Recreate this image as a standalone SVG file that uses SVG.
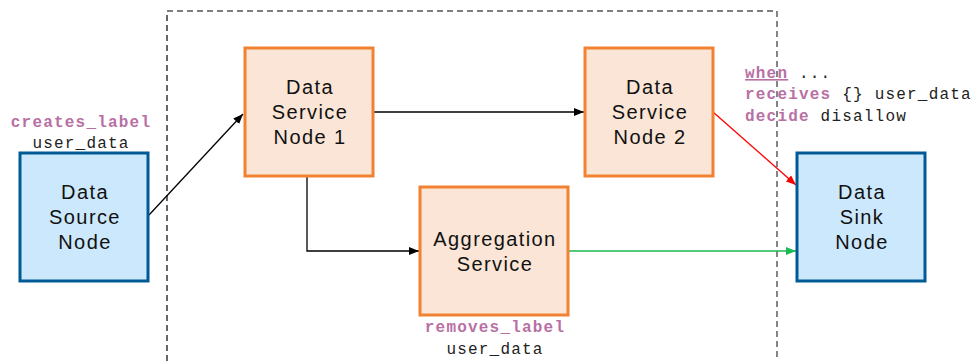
<svg xmlns="http://www.w3.org/2000/svg" width="974" height="361" viewBox="0 0 974 361">
<defs>
<style>
.blue{fill:#cce8fc;stroke:#005a96;stroke-width:3}
.orange{fill:#fae5d6;stroke:#f08232;stroke-width:3}
.nt{font-family:"Liberation Sans",Arial,sans-serif;font-size:20px;letter-spacing:1.4px;fill:#111;text-anchor:middle}
.kw{font-family:"Liberation Mono","Courier New",monospace;font-size:16px;letter-spacing:1.2px;font-weight:bold;fill:#b870a4}
.mo{font-family:"Liberation Mono","Courier New",monospace;font-size:16px;letter-spacing:1.2px;fill:#222}
.ln{fill:none;stroke-width:1.3}
</style>
<marker id="ab" markerWidth="10" markerHeight="8" refX="10" refY="4" orient="auto" markerUnits="userSpaceOnUse"><path d="M0,0L10,4L0,8z" fill="#000"/></marker>
<marker id="ar" markerWidth="10" markerHeight="8" refX="10" refY="4" orient="auto" markerUnits="userSpaceOnUse"><path d="M0,0L10,4L0,8z" fill="#f00"/></marker>
<marker id="ag" markerWidth="10" markerHeight="8" refX="10" refY="4" orient="auto" markerUnits="userSpaceOnUse"><path d="M0,0L10,4L0,8z" fill="#1db954"/></marker>
</defs>
<rect width="974" height="361" fill="#fff"/>
<g id="boundary">
<path d="M167,361V11H777" fill="none" stroke="#000" stroke-width="1.2" stroke-dasharray="6,4"/>
<path d="M777,11V361" fill="none" stroke="#666" stroke-width="1.6" stroke-dasharray="6,4"/>
</g>
<g id="connectors">
<path class="ln" d="M149,215L243,114" stroke="#000" marker-end="url(#ab)"/>
<path class="ln" d="M374,112H584" stroke="#000" marker-end="url(#ab)"/>
<path class="ln" d="M307,177V251H419" stroke="#000" marker-end="url(#ab)"/>
<path class="ln" d="M713,112L796,185" stroke="#f00" marker-end="url(#ar)"/>
<path class="ln" d="M569,251H796" stroke="#1db954" marker-end="url(#ag)"/>
</g>
<g id="source">
<rect class="blue" x="20" y="153" width="128" height="128"/>
<text class="nt" x="85" y="199">Data</text>
<text class="nt" x="85" y="224">Source</text>
<text class="nt" x="85" y="249">Node</text>
<text class="kw" x="81" y="127" text-anchor="middle">creates_label</text>
<text class="mo" x="81" y="148" text-anchor="middle">user_data</text>
</g>
<g id="service1">
<rect class="orange" x="245" y="48" width="128" height="128"/>
<text class="nt" x="310" y="94">Data</text>
<text class="nt" x="310" y="119">Service</text>
<text class="nt" x="310" y="144">Node 1</text>
</g>
<g id="service2">
<rect class="orange" x="585" y="48" width="128" height="128"/>
<text class="nt" x="650" y="94">Data</text>
<text class="nt" x="650" y="119">Service</text>
<text class="nt" x="650" y="144">Node 2</text>
</g>
<g id="aggregation">
<rect class="orange" x="420" y="187" width="148" height="128"/>
<text class="nt" x="495" y="246">Aggregation</text>
<text class="nt" x="495" y="271">Service</text>
<text class="kw" x="495" y="332" text-anchor="middle">removes_label</text>
<text class="mo" x="495" y="354" text-anchor="middle">user_data</text>
</g>
<g id="sink">
<rect class="blue" x="797" y="153" width="128" height="128"/>
<text class="nt" x="862" y="199">Data</text>
<text class="nt" x="862" y="224">Sink</text>
<text class="nt" x="862" y="249">Node</text>
</g>
<g id="policy">
<text x="745" y="78"><tspan class="kw" text-decoration="underline">when</tspan><tspan class="mo"> ...</tspan></text>
<text x="745" y="99"><tspan class="kw">receives</tspan><tspan class="mo"> {} user_data</tspan></text>
<text x="745" y="121"><tspan class="kw">decide</tspan><tspan class="mo"> disallow</tspan></text>
</g>
</svg>
